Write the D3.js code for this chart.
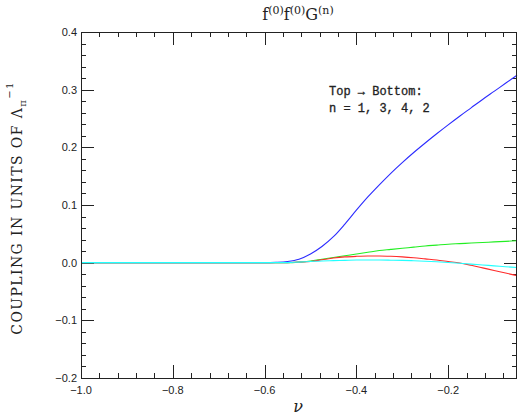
<!DOCTYPE html>
<html>
<head>
<meta charset="utf-8">
<script src="https://cdn.jsdelivr.net/npm/d3@7"></script>
<style>
  body { margin: 0; background: #fff; }
  svg { display: block; }
</style>
</head>
<body>
<svg id="chart" width="518" height="420"></svg>
<script>
// nu grid and the four couplings
const nu = [-1.0, -0.9, -0.8, -0.7, -0.6, -0.575, -0.55, -0.525, -0.5, -0.475, -0.45, -0.425,
  -0.4, -0.375, -0.35, -0.325, -0.3, -0.275, -0.25, -0.225, -0.2, -0.175, -0.15, -0.125,
  -0.1, -0.075, -0.05];
const g1 = [0, 0, 0, 0, 0, 0.0005, 0.002, 0.006, 0.015, 0.028, 0.045, 0.067,
  0.091, 0.114, 0.135, 0.155, 0.1735, 0.191, 0.2075, 0.2235, 0.239, 0.254, 0.2685, 0.283,
  0.297, 0.311, 0.325];
const g3 = [0, 0, 0, 0, 0, 0, 0, 0.001, 0.003, 0.006, 0.009, 0.012,
  0.015, 0.018, 0.021, 0.023, 0.025, 0.027, 0.029, 0.0305, 0.032, 0.033, 0.034, 0.035,
  0.036, 0.037, 0.038];
const g4 = [0, 0, 0, 0, 0, 0, 0, 0.001, 0.002, 0.005, 0.008, 0.010,
  0.011, 0.0115, 0.0115, 0.011, 0.010, 0.0085, 0.0065, 0.0045, 0.002, -0.0005, -0.0045, -0.009,
  -0.0135, -0.018, -0.0225];
const g2 = [0, 0, 0, 0, 0, 0, 0, 0.001, 0.002, 0.003, 0.0035, 0.004,
  0.0045, 0.0045, 0.0045, 0.0043, 0.004, 0.0033, 0.0025, 0.0015, 0.0003, -0.001, -0.0025, -0.004,
  -0.0055, -0.007, -0.0085];

const series = [
  { n: 1, vals: g1, color: "#2b2bff" },
  { n: 3, vals: g3, color: "#22ee22" },
  { n: 4, vals: g4, color: "#ff2a2a" },
  { n: 2, vals: g2, color: "#22ffff" }
];

const xTicks = [-1.0, -0.8, -0.6, -0.4, -0.2];
const yTicks = [-0.2, -0.1, 0.0, 0.1, 0.2, 0.3, 0.4];

const margin = { left: 81, right: 1, top: 32, bottom: 42 };
const width = 518, height = 420;

const svg = d3.select("#chart");

const x = d3.scaleLinear().domain([-1.0, -0.05]).range([margin.left, width - margin.right]);
const y = d3.scaleLinear().domain([-0.2, 0.4]).range([height - margin.bottom, margin.top]);

const fmt = (d) => d3.format(".1f")(d).replace("-", "\u2212");

// minor + major ticks, pointing inward on all four sides
const xMinor = d3.range(-1.0, -0.05, 0.04).filter((d) => d > -1.0);
const yMinor = d3.range(-0.2, 0.4001, 0.02);

const axes = svg.append("g").attr("stroke", "#222").attr("stroke-width", 1);
const x0 = x.range()[0], x1 = x.range()[1], yb = y.range()[0], yt = y.range()[1];

function tickLines(vals, len, horiz) {
  vals.forEach((v) => {
    if (horiz) {
      const px = Math.round(x(v)) + 0.5;
      axes.append("line").attr("x1", px).attr("x2", px).attr("y1", yb).attr("y2", yb - len);
      axes.append("line").attr("x1", px).attr("x2", px).attr("y1", yt).attr("y2", yt + len);
    } else {
      const py = Math.round(y(v)) + 0.5;
      axes.append("line").attr("x1", x0).attr("x2", x0 + len).attr("y1", py).attr("y2", py);
      axes.append("line").attr("x1", x1).attr("x2", x1 - len).attr("y1", py).attr("y2", py);
    }
  });
}
tickLines(xMinor, 5, true);
tickLines(xTicks, 13, true);
tickLines(yMinor, 5, false);
tickLines(yTicks, 13, false);

// lines
const line = d3.line()
  .x((d, i) => x(nu[i]))
  .y((d) => y(d))
  .curve(d3.curveMonotoneX);

svg.append("g")
  .selectAll("path")
  .data(series)
  .join("path")
  .attr("fill", "none")
  .attr("stroke", (d) => d.color)
  .attr("stroke-width", 1.1)
  .attr("d", (d) => line(d.vals));

// frame
svg.append("rect")
  .attr("x", x0 + 0.5).attr("y", yt + 0.5)
  .attr("width", x1 - x0 - 1).attr("height", yb - yt)
  .attr("fill", "none").attr("stroke", "#222");

// tick labels
svg.append("g")
  .selectAll("text")
  .data(xTicks)
  .join("text")
  .attr("x", (d) => x(d))
  .attr("y", yb + 16)
  .attr("text-anchor", "middle")
  .attr("font-family", "Liberation Sans, Arial, sans-serif")
  .attr("font-size", 11)
  .attr("fill", "#222")
  .text(fmt);

svg.append("g")
  .selectAll("text")
  .data(yTicks)
  .join("text")
  .attr("x", x0 - 4)
  .attr("y", (d) => y(d) + 4)
  .attr("text-anchor", "end")
  .attr("font-family", "Liberation Sans, Arial, sans-serif")
  .attr("font-size", 11)
  .attr("fill", "#222")
  .text(fmt);

// title
const title = svg.append("text")
  .attr("x", 298).attr("y", 20)
  .attr("text-anchor", "middle")
  .attr("font-family", "DejaVu Serif, serif")
  .attr("font-size", 16)
  .attr("fill", "#222");
[["f", 0], ["(0)", 1], ["f", 0], ["(0)", 1], ["G", 0], ["(n)", 1]].forEach(([t, sup]) => {
  title.append("tspan")
    .attr("font-size", sup ? 11 : 16)
    .attr("dy", sup ? -6 : 6)
    .text(t);
});
title.select("tspan").attr("dy", 0);

// x label
svg.append("text")
  .attr("x", 298).attr("y", 412)
  .attr("text-anchor", "middle")
  .attr("font-family", "DejaVu Serif, serif")
  .attr("font-style", "italic")
  .attr("font-size", 16)
  .attr("fill", "#222")
  .text("\u03BD");

// y label
const ylab = svg.append("text")
  .attr("transform", "translate(22,208) rotate(-90)")
  .attr("text-anchor", "middle")
  .attr("font-family", "DejaVu Serif, serif")
  .attr("font-size", 14)
  .attr("letter-spacing", 1.4)
  .attr("fill", "#222");
ylab.append("tspan").text("COUPLING IN UNITS OF \u039B");
ylab.append("tspan").attr("font-size", 10).attr("dy", 4).text("\u03C0");
ylab.append("tspan").attr("font-size", 10).attr("dy", -13).text("\u2212" + "1");

// annotation
const note = svg.append("g")
  .attr("font-family", "Liberation Mono, Courier New, monospace")
  .attr("font-size", 12)
  .attr("fill", "#222")
  .attr("stroke", "#222")
  .attr("stroke-width", 0.3);
note.append("text").attr("x", 329).attr("y", 95).text("Top \u2192 Bottom:");
note.append("text").attr("x", 329).attr("y", 112).text("n = 1, 3, 4, 2");
</script>
</body>
</html>
